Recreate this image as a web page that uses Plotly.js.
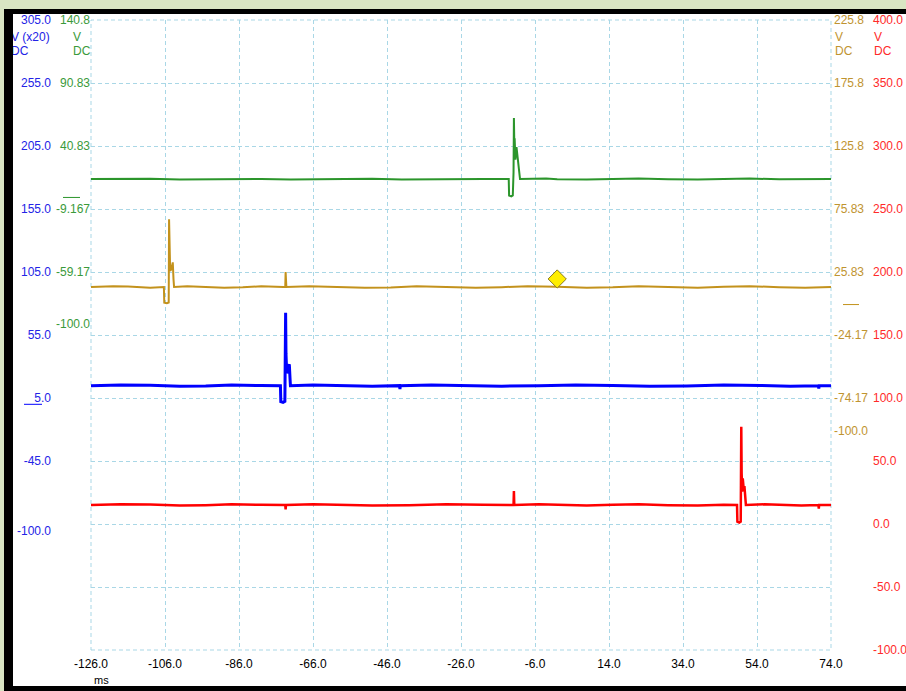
<!DOCTYPE html>
<html>
<head>
<meta charset="utf-8">
<script src="https://cdn.plot.ly/plotly-3.0.1.min.js"></script>
<style>
html,body{margin:0;padding:0;width:906px;height:691px;overflow:hidden;background:#d9e5c3;}
#frame{position:absolute;left:4px;top:9px;width:902px;height:682px;background:#000;}
#white{position:absolute;left:13px;top:14px;width:893px;height:672px;background:#fff;overflow:hidden;}
#plot{position:absolute;left:-13px;top:-14px;width:906px;height:691px;}
</style>
</head>
<body>
<div id="frame"></div>
<div id="white"><div id="plot"></div></div>
<script>
// ---- data (time in ms, values in each channel's units) ----
const timeTicks = [-126, -106, -86, -66, -46, -26, -6, 14, 34, 54, 74];
const timeTickText = ["-126.0","-106.0","-86.0","-66.0","-46.0","-26.0","-6.0","14.0","34.0","54.0","74.0"];

const blueTickVals = [305, 255, 205, 155, 105, 55, 5, -45, -100];
const blueTickText = ["305.0","255.0","205.0","155.0","105.0","55.0","5.0","-45.0","-100.0"];
const greenTickVals = [140.83, 90.83, 40.83, -9.167, -59.17, -100];
const greenTickText = ["140.8","90.83","40.83","-9.167","-59.17","-100.0"];
const goldTickVals = [225.83, 175.83, 125.83, 75.83, 25.83, -24.17, -74.17, -100];
const goldTickText = ["225.8","175.8","125.8","75.83","25.83","-24.17","-74.17","-100.0"];
const redTickVals = [400, 350, 300, 250, 200, 150, 100, 50, 0, -50, -100];
const redTickText = ["400.0","350.0","300.0","250.0","200.0","150.0","100.0","50.0","0.0","-50.0","-100.0"];

const greenTime = [-126, -118, -110, -102, -95, -88, -80, -72, -65, -58, -50, -42, -35, -27, -20, -13.1, -13.0, -12.4, -12.0, -11.8, -11.7, -11.6, -11.5, -11.3, -11.0, -10.6, -10.4, -10.2, -10.05, -3, 0, 8, 15, 22, 30, 38, 45, 52, 60, 67, 74];
const greenValue = [14.6, 15.0, 14.9, 14.2, 14.4, 15.0, 14.7, 14.3, 14.5, 15.0, 14.8, 14.2, 14.4, 14.9, 14.6, 14.6, 1.5, 0.8, 1.6, 20, 63, 45, 47, 30, 40, 28, 28, 20, 14.6, 15.0, 14.4, 14.2, 14.8, 15.0, 14.5, 14.2, 14.7, 15.0, 14.4, 14.2, 14.6];

const goldTime = [-126, -120, -116, -110, -106.3, -106.2, -105.5, -105.0, -104.9, -104.75, -104.6, -104.3, -104.1, -103.9, -103.7, -103.55, -100, -95, -90, -85, -80, -74, -73.5, -73.4, -73.3, -73.2, -67, -60, -52, -45, -38, -30, -22, -15, -8, 0, 8, 15, 22, 30, 38, 45, 52, 60, 67, 74];
const goldValue = [13.9, 14.6, 14.3, 13.4, 13.9, 1.4, 1.0, 1.6, 67.7, 30, 26.6, 28, 33.5, 33.5, 20, 13.9, 14.6, 14.2, 13.3, 13.7, 14.5, 13.9, 13.9, 25.8, 14.0, 13.9, 14.6, 14.2, 13.3, 13.6, 14.5, 14.0, 13.4, 13.8, 14.6, 14.1, 13.4, 13.7, 14.5, 14.0, 13.3, 14.2, 14.6, 13.8, 13.4, 13.9];

const blueTime = [-126, -118, -110, -102, -95, -88, -80, -74.8, -74.7, -74.1, -73.6, -73.45, -73.4, -73.3, -73.1, -72.9, -72.6, -72.4, -72.2, -72.1, -66, -60, -50, -42.6, -42.5, -42.4, -34, -25, -15, -5, 5, 15, 25, 35, 45, 55, 63, 70.6, 70.7, 70.8, 74];
const blueValue = [14.8, 15.3, 15.1, 14.4, 14.6, 15.3, 14.9, 14.8, 2.1, 1.5, 2.4, 30, 72.7, 40, 24.6, 27, 31.8, 31.8, 20, 14.8, 15.3, 15.0, 14.4, 14.8, 12.0, 14.8, 15.3, 15.0, 14.4, 14.7, 15.3, 14.9, 14.4, 14.6, 15.3, 14.9, 14.4, 14.8, 12.5, 14.8, 14.8];

const redTime = [-126, -118, -110, -102, -95, -88, -80, -73.5, -73.4, -73.3, -66, -60, -50, -40, -30, -20, -11.8, -11.7, -11.6, -5, 0, 8, 15, 22, 30, 38, 45, 48.6, 48.7, 49.2, 49.6, 49.7, 49.75, 49.85, 50.0, 50.15, 50.4, 50.6, 50.8, 51.0, 56, 60, 66, 70.6, 70.7, 70.8, 74];
const redValue = [15.1, 15.7, 15.4, 14.6, 14.9, 15.6, 15.2, 15.1, 11.5, 15.1, 15.7, 15.3, 14.6, 14.9, 15.6, 15.2, 15.1, 26.2, 15.1, 15.6, 15.0, 14.6, 15.3, 15.7, 14.9, 14.6, 15.2, 15.1, 1.8, 1.2, 2.0, 30, 77.2, 40, 25.6, 36.3, 28, 30, 20, 15.1, 15.6, 15.2, 14.6, 15.1, 12.3, 15.1, 15.1];

const triggerTime = [0];
const triggerLevel = [20.3];

// ---- styling ----
const W = 906, H = 691;
const FONT = "Liberation Sans, Arial, sans-serif";
const cBlue = "#0000ff", cBlueTxt = "#2323e6";
const cGreen = "#2b952b", cGreenTxt = "#3a9a3a";
const cGold = "#c3921c", cGoldTxt = "#bf9430";
const cRed = "#ff0000", cRedTxt = "#ff2a2a";
const gridCol = "#a9d7e6";

const px = x => x / W;
const py = y => 1 - y / H;

const traces = [
  {x: greenTime, y: greenValue, yaxis: "y2", mode: "lines", line: {color: cGreen, width: 2}, hoverinfo: "skip"},
  {x: goldTime, y: goldValue, yaxis: "y3", mode: "lines", line: {color: cGold, width: 2}, hoverinfo: "skip"},
  {x: blueTime, y: blueValue, yaxis: "y", mode: "lines", line: {color: cBlue, width: 3}, hoverinfo: "skip"},
  {x: redTime, y: redValue, yaxis: "y4", mode: "lines", line: {color: cRed, width: 2.5}, hoverinfo: "skip"},
  {x: triggerTime, y: triggerLevel, yaxis: "y3", mode: "markers",
   marker: {symbol: "diamond", size: 14, color: "#ffee00", line: {color: "#8a7a20", width: 1}}, hoverinfo: "skip"}
];

const yDomain = [py(650), py(20)];
const tf = c => ({family: FONT, size: 12, color: c});
const baseY = {domain: yDomain, anchor: "x", showgrid: false, zeroline: false, showline: false, ticks: "",
  tickmode: "array", fixedrange: true};

const layout = {
  width: W, height: H,
  margin: {l: 0, r: 0, t: 0, b: 0},
  paper_bgcolor: "rgba(0,0,0,0)", plot_bgcolor: "rgba(0,0,0,0)",
  showlegend: false,
  xaxis: {domain: [px(91), px(831)], range: [-126, 74], tickmode: "array", tickvals: timeTicks, ticktext: timeTickText,
    showgrid: true, gridcolor: gridCol, gridwidth: 1, griddash: "4px,3px", zeroline: false, showline: false, ticks: "",
    tickfont: tf("#000"), ticklabelstandoff: 5, fixedrange: true},
  yaxis: Object.assign({}, baseY, {range: [-195, 305], side: "left", tickvals: blueTickVals, ticktext: blueTickText,
    tickfont: tf(cBlueTxt), ticklabelstandoff: 39}),
  yaxis2: Object.assign({}, baseY, {range: [-359.17, 140.83], side: "left", overlaying: "y", tickvals: greenTickVals, ticktext: greenTickText,
    tickfont: tf(cGreenTxt)}),
  yaxis3: Object.assign({}, baseY, {range: [-274.17, 225.83], side: "right", overlaying: "y", tickvals: goldTickVals, ticktext: goldTickText,
    tickfont: tf(cGoldTxt), ticklabelstandoff: 2}),
  yaxis4: Object.assign({}, baseY, {range: [-100, 400], side: "right", overlaying: "y", tickvals: redTickVals, ticktext: redTickText,
    tickfont: tf(cRedTxt), ticklabelstandoff: 41, showgrid: true, gridcolor: gridCol, gridwidth: 1, griddash: "4px,3px"}),
  annotations: [
    {text: "V (x20)", x: px(10), y: py(37)}, {text: "DC", x: px(10), y: py(51)},
    {text: "V", x: px(72), y: py(37), c: cGreenTxt}, {text: "DC", x: px(72), y: py(51), c: cGreenTxt},
    {text: "V", x: px(834), y: py(37), c: cGoldTxt}, {text: "DC", x: px(834), y: py(51), c: cGoldTxt},
    {text: "V", x: px(873), y: py(37), c: cRedTxt}, {text: "DC", x: px(873), y: py(51), c: cRedTxt},
    {text: "ms", x: px(93), y: py(680), c: "#000", s: 11}
  ].map(a => ({text: a.text, x: a.x, y: a.y, xref: "paper", yref: "paper", xanchor: "left", yanchor: "middle",
    showarrow: false, font: {family: FONT, size: a.s || 12, color: a.c || cBlueTxt}, borderpad: 0})),
  shapes: [
    {type: "rect", xref: "paper", yref: "paper", x0: px(91), x1: px(831), y0: py(650), y1: py(20),
     line: {color: gridCol, width: 1, dash: "4px,3px"}, fillcolor: "rgba(0,0,0,0)", layer: "below"},
    {type: "line", xref: "paper", yref: "y", x0: px(24), x1: px(42), y0: 0, y1: 0, line: {color: cBlue, width: 1}},
    {type: "line", xref: "paper", yref: "y2", x0: px(63), x1: px(80), y0: 0, y1: 0, line: {color: cGreen, width: 1}},
    {type: "line", xref: "paper", yref: "y3", x0: px(843), x1: px(859), y0: 0, y1: 0, line: {color: cGold, width: 1}}
  ]
};

Plotly.newPlot("plot", traces, layout, {displayModeBar: false, staticPlot: true});
</script>
</body>
</html>
